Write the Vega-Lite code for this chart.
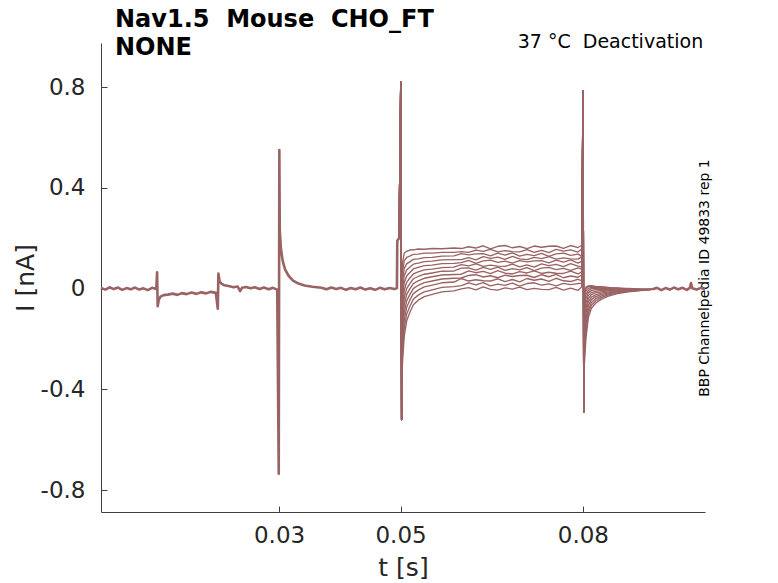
{
"$schema":"https://vega.github.io/schema/vega-lite/v6.json",
"width":604,"height":469,
"autosize":"none",
"padding":{"left":101,"top":43,"right":73,"bottom":71},
"background":"white",
"config":{"font":"DejaVu Sans","view":{"stroke":null},
"axis":{"grid":false,"domainColor":"#404040","tickColor":"#404040","labelColor":"#262626","titleColor":"#262626","labelFontSize":23,"titleFontSize":25,"titleFontWeight":"normal","tickSize":-6}},
"title":{"text":["Nav1.5\u00a0\u00a0Mouse\u00a0\u00a0CHO_FT","NONE"],"anchor":"start","frame":"group","offset":-27,"dx":14,"fontSize":24,"fontWeight":"bold","lineHeight":28,"color":"black"},
"datasets":{
"base":[
{"seg":"pre","t":0.0007,"i":0.003},{"seg":"pre","t":0.0014,"i":-0.004},{"seg":"pre","t":0.0021,"i":0.005},{"seg":"pre","t":0.0028,"i":-0.002},{"seg":"pre","t":0.0035,"i":0.004},{"seg":"pre","t":0.0042,"i":-0.005},{"seg":"pre","t":0.0049,"i":0.002},{"seg":"pre","t":0.0056,"i":-0.003},{"seg":"pre","t":0.0063,"i":0.004},{"seg":"pre","t":0.007,"i":-0.004},{"seg":"pre","t":0.0077,"i":0.001},{"seg":"pre","t":0.0084,"i":-0.006},{"seg":"pre","t":0.0091,"i":0.003},{"seg":"pre","t":0.0098,"i":-0.002},
{"seg":"pre","t":0.00993,"i":0.065},{"seg":"pre","t":0.01003,"i":-0.07},{"seg":"pre","t":0.0102,"i":-0.045},{"seg":"pre","t":0.0105,"i":-0.032},{"seg":"pre","t":0.011,"i":-0.026},{"seg":"pre","t":0.0117,"i":-0.024},{"seg":"pre","t":0.0125,"i":-0.02},{"seg":"pre","t":0.0133,"i":-0.025},{"seg":"pre","t":0.014,"i":-0.018},{"seg":"pre","t":0.0148,"i":-0.022},{"seg":"pre","t":0.0156,"i":-0.016},{"seg":"pre","t":0.0164,"i":-0.021},{"seg":"pre","t":0.0172,"i":-0.015},{"seg":"pre","t":0.018,"i":-0.019},{"seg":"pre","t":0.0188,"i":-0.013},{"seg":"pre","t":0.0196,"i":-0.017},
{"seg":"pre","t":0.01992,"i":-0.08},{"seg":"pre","t":0.02002,"i":0.06},{"seg":"pre","t":0.0202,"i":0.03},{"seg":"pre","t":0.0205,"i":0.02},{"seg":"pre","t":0.021,"i":0.013},{"seg":"pre","t":0.0217,"i":0.01},{"seg":"pre","t":0.0225,"i":0.005},{"seg":"pre","t":0.0232,"i":0.008},{"seg":"pre","t":0.0236,"i":-0.01},{"seg":"pre","t":0.0239,"i":0.003},{"seg":"pre","t":0.0246,"i":0.006},{"seg":"pre","t":0.0253,"i":0.001},{"seg":"pre","t":0.026,"i":0.005},{"seg":"pre","t":0.0268,"i":-0.002},{"seg":"pre","t":0.0275,"i":0.004},{"seg":"pre","t":0.0283,"i":-0.003},{"seg":"pre","t":0.029,"i":0.003},{"seg":"pre","t":0.0297,"i":-0.004},
{"seg":"pre","t":0.02995,"i":-0.735},{"seg":"pre","t":0.03005,"i":0.55},{"seg":"pre","t":0.03012,"i":0.23},{"seg":"pre","t":0.0303,"i":0.16},{"seg":"pre","t":0.0306,"i":0.11},{"seg":"pre","t":0.031,"i":0.075},{"seg":"pre","t":0.0316,"i":0.05},{"seg":"pre","t":0.0323,"i":0.032},{"seg":"pre","t":0.0332,"i":0.02},{"seg":"pre","t":0.0342,"i":0.012},{"seg":"pre","t":0.0355,"i":0.007},{"seg":"pre","t":0.037,"i":0.003},
{"seg":"pre","t":0.0378,"i":-0.003},{"seg":"pre","t":0.0386,"i":0.004},{"seg":"pre","t":0.0394,"i":-0.002},{"seg":"pre","t":0.0402,"i":0.003},{"seg":"pre","t":0.041,"i":-0.005},{"seg":"pre","t":0.0418,"i":0.002},{"seg":"pre","t":0.0426,"i":-0.003},{"seg":"pre","t":0.0434,"i":0.004},{"seg":"pre","t":0.0442,"i":-0.004},{"seg":"pre","t":0.045,"i":0.001},{"seg":"pre","t":0.0458,"i":-0.005},{"seg":"pre","t":0.0466,"i":0.003},{"seg":"pre","t":0.0474,"i":-0.003},{"seg":"pre","t":0.0482,"i":0.002},{"seg":"pre","t":0.049,"i":-0.002},{"seg":"pre","t":0.0494,"i":0.002},{"seg":"pre","t":0.04946,"i":0.19},{"seg":"pre","t":0.04975,"i":0.2},
{"seg":"post","t":0.0915,"i":-0.003},{"seg":"post","t":0.0922,"i":0.003},{"seg":"post","t":0.0929,"i":-0.006},{"seg":"post","t":0.0936,"i":0.002},{"seg":"post","t":0.0943,"i":-0.004},{"seg":"post","t":0.095,"i":0.004},{"seg":"post","t":0.0957,"i":-0.003},{"seg":"post","t":0.0964,"i":0.003},{"seg":"post","t":0.0971,"i":-0.005},{"seg":"post","t":0.0976,"i":0.003},{"seg":"post","t":0.0978,"i":0.022},{"seg":"post","t":0.098,"i":0.001},{"seg":"post","t":0.0987,"i":-0.004},{"seg":"post","t":0.0994,"i":0.003},{"seg":"post","t":0.1001,"i":-0.003}
],
"sweeps":[
{"sweep":1,"t":0.04975,"i":0.2},{"sweep":1,"t":0.05003,"i":0.82},{"sweep":1,"t":0.05017,"i":-0.52},{"sweep":1,"t":0.0503,"i":0.1},{"sweep":1,"t":0.0506,"i":0.14},{"sweep":1,"t":0.051,"i":0.148},{"sweep":1,"t":0.0515,"i":0.153},{"sweep":1,"t":0.0521,"i":0.154},{"sweep":1,"t":0.0529,"i":0.157},{"sweep":1,"t":0.0539,"i":0.156},{"sweep":1,"t":0.0552,"i":0.159},{"sweep":1,"t":0.0568,"i":0.158},{"sweep":1,"t":0.0588,"i":0.161},
{"sweep":1,"t":0.06,"i":0.159},{"sweep":1,"t":0.0612,"i":0.166},{"sweep":1,"t":0.0624,"i":0.161},{"sweep":1,"t":0.0636,"i":0.17},{"sweep":1,"t":0.0648,"i":0.158},{"sweep":1,"t":0.066,"i":0.168},{"sweep":1,"t":0.0672,"i":0.171},{"sweep":1,"t":0.0684,"i":0.162},{"sweep":1,"t":0.0696,"i":0.167},{"sweep":1,"t":0.0708,"i":0.159},{"sweep":1,"t":0.072,"i":0.169},{"sweep":1,"t":0.0732,"i":0.164},{"sweep":1,"t":0.0744,"i":0.168},{"sweep":1,"t":0.0756,"i":0.169},{"sweep":1,"t":0.0768,"i":0.16},{"sweep":1,"t":0.078,"i":0.171},{"sweep":1,"t":0.0792,"i":0.163},{"sweep":1,"t":0.0798,"i":0.172},
{"sweep":1,"t":0.08003,"i":0.785},{"sweep":1,"t":0.08015,"i":-0.49},{"sweep":1,"t":0.08025,"i":-0.02},{"sweep":1,"t":0.0805,"i":0.006},{"sweep":1,"t":0.0809,"i":0.011},{"sweep":1,"t":0.0814,"i":0.012},{"sweep":1,"t":0.0821,"i":0.009},{"sweep":1,"t":0.083,"i":0.008},{"sweep":1,"t":0.0842,"i":0.004},{"sweep":1,"t":0.0857,"i":0.003},{"sweep":1,"t":0.0875,"i":-0.001},{"sweep":1,"t":0.0895,"i":-0.002},{"sweep":1,"t":0.0915,"i":-0.003},
{"sweep":2,"t":0.04975,"i":0.2},{"sweep":2,"t":0.05003,"i":0.82},{"sweep":2,"t":0.05017,"i":-0.52},{"sweep":2,"t":0.0503,"i":0.064},{"sweep":2,"t":0.0506,"i":0.11},{"sweep":2,"t":0.051,"i":0.124},{"sweep":2,"t":0.0515,"i":0.129},{"sweep":2,"t":0.0521,"i":0.136},{"sweep":2,"t":0.0529,"i":0.137},{"sweep":2,"t":0.0539,"i":0.141},{"sweep":2,"t":0.0552,"i":0.141},{"sweep":2,"t":0.0568,"i":0.144},{"sweep":2,"t":0.0588,"i":0.144},
{"sweep":2,"t":0.06,"i":0.147},{"sweep":2,"t":0.0612,"i":0.144},{"sweep":2,"t":0.0624,"i":0.153},{"sweep":2,"t":0.0636,"i":0.148},{"sweep":2,"t":0.0648,"i":0.156},{"sweep":2,"t":0.066,"i":0.146},{"sweep":2,"t":0.0672,"i":0.151},{"sweep":2,"t":0.0684,"i":0.147},{"sweep":2,"t":0.0696,"i":0.146},{"sweep":2,"t":0.0708,"i":0.155},{"sweep":2,"t":0.072,"i":0.144},{"sweep":2,"t":0.0732,"i":0.152},{"sweep":2,"t":0.0744,"i":0.143},{"sweep":2,"t":0.0756,"i":0.156},{"sweep":2,"t":0.0768,"i":0.149},{"sweep":2,"t":0.078,"i":0.154},{"sweep":2,"t":0.0792,"i":0.145},{"sweep":2,"t":0.0798,"i":0.157},
{"sweep":2,"t":0.08003,"i":0.785},{"sweep":2,"t":0.08015,"i":-0.49},{"sweep":2,"t":0.08025,"i":-0.028},{"sweep":2,"t":0.0805,"i":0.0},{"sweep":2,"t":0.0809,"i":0.008},{"sweep":2,"t":0.0814,"i":0.01},{"sweep":2,"t":0.0821,"i":0.007},{"sweep":2,"t":0.083,"i":0.007},{"sweep":2,"t":0.0842,"i":0.005},{"sweep":2,"t":0.0857,"i":0.001},{"sweep":2,"t":0.0875,"i":0.001},{"sweep":2,"t":0.0895,"i":-0.002},{"sweep":2,"t":0.0915,"i":-0.003},
{"sweep":3,"t":0.04975,"i":0.2},{"sweep":3,"t":0.05003,"i":0.82},{"sweep":3,"t":0.05017,"i":-0.52},{"sweep":3,"t":0.0503,"i":0.027},{"sweep":3,"t":0.0506,"i":0.08},{"sweep":3,"t":0.051,"i":0.098},{"sweep":3,"t":0.0515,"i":0.106},{"sweep":3,"t":0.0521,"i":0.116},{"sweep":3,"t":0.0529,"i":0.118},{"sweep":3,"t":0.0539,"i":0.123},{"sweep":3,"t":0.0552,"i":0.124},{"sweep":3,"t":0.0568,"i":0.129},{"sweep":3,"t":0.0588,"i":0.13},
{"sweep":3,"t":0.06,"i":0.139},{"sweep":3,"t":0.0612,"i":0.134},{"sweep":3,"t":0.0624,"i":0.138},{"sweep":3,"t":0.0636,"i":0.139},{"sweep":3,"t":0.0648,"i":0.13},{"sweep":3,"t":0.066,"i":0.141},{"sweep":3,"t":0.0672,"i":0.133},{"sweep":3,"t":0.0684,"i":0.142},{"sweep":3,"t":0.0696,"i":0.129},{"sweep":3,"t":0.0708,"i":0.136},{"sweep":3,"t":0.072,"i":0.131},{"sweep":3,"t":0.0732,"i":0.14},{"sweep":3,"t":0.0744,"i":0.128},{"sweep":3,"t":0.0756,"i":0.138},{"sweep":3,"t":0.0768,"i":0.141},{"sweep":3,"t":0.078,"i":0.132},{"sweep":3,"t":0.0792,"i":0.137},{"sweep":3,"t":0.0798,"i":0.129},
{"sweep":3,"t":0.08003,"i":0.785},{"sweep":3,"t":0.08015,"i":-0.49},{"sweep":3,"t":0.08025,"i":-0.042},{"sweep":3,"t":0.0805,"i":-0.01},{"sweep":3,"t":0.0809,"i":0.001},{"sweep":3,"t":0.0814,"i":0.005},{"sweep":3,"t":0.0821,"i":0.006},{"sweep":3,"t":0.083,"i":0.004},{"sweep":3,"t":0.0842,"i":0.002},{"sweep":3,"t":0.0857,"i":0.001},{"sweep":3,"t":0.0875,"i":-0.001},{"sweep":3,"t":0.0895,"i":-0.003},{"sweep":3,"t":0.0915,"i":-0.003},
{"sweep":4,"t":0.04975,"i":0.2},{"sweep":4,"t":0.05003,"i":0.82},{"sweep":4,"t":0.05017,"i":-0.52},{"sweep":4,"t":0.0503,"i":-0.008},{"sweep":4,"t":0.0506,"i":0.051},{"sweep":4,"t":0.051,"i":0.074},{"sweep":4,"t":0.0515,"i":0.085},{"sweep":4,"t":0.0521,"i":0.097},{"sweep":4,"t":0.0529,"i":0.101},{"sweep":4,"t":0.0539,"i":0.107},{"sweep":4,"t":0.0552,"i":0.109},{"sweep":4,"t":0.0568,"i":0.114},{"sweep":4,"t":0.0588,"i":0.115},
{"sweep":4,"t":0.06,"i":0.115},{"sweep":4,"t":0.0612,"i":0.123},{"sweep":4,"t":0.0624,"i":0.114},{"sweep":4,"t":0.0636,"i":0.127},{"sweep":4,"t":0.0648,"i":0.12},{"sweep":4,"t":0.066,"i":0.125},{"sweep":4,"t":0.0672,"i":0.116},{"sweep":4,"t":0.0684,"i":0.128},{"sweep":4,"t":0.0696,"i":0.118},{"sweep":4,"t":0.0708,"i":0.115},{"sweep":4,"t":0.072,"i":0.124},{"sweep":4,"t":0.0732,"i":0.119},{"sweep":4,"t":0.0744,"i":0.127},{"sweep":4,"t":0.0756,"i":0.117},{"sweep":4,"t":0.0768,"i":0.122},{"sweep":4,"t":0.078,"i":0.118},{"sweep":4,"t":0.0792,"i":0.117},{"sweep":4,"t":0.0798,"i":0.126},
{"sweep":4,"t":0.08003,"i":0.785},{"sweep":4,"t":0.08015,"i":-0.49},{"sweep":4,"t":0.08025,"i":-0.06},{"sweep":4,"t":0.0805,"i":-0.023},{"sweep":4,"t":0.0809,"i":-0.008},{"sweep":4,"t":0.0814,"i":0.0},{"sweep":4,"t":0.0821,"i":0.0},{"sweep":4,"t":0.083,"i":0.002},{"sweep":4,"t":0.0842,"i":0.0},{"sweep":4,"t":0.0857,"i":-0.002},{"sweep":4,"t":0.0875,"i":-0.002},{"sweep":4,"t":0.0895,"i":-0.003},{"sweep":4,"t":0.0915,"i":-0.003},
{"sweep":5,"t":0.04975,"i":0.2},{"sweep":5,"t":0.05003,"i":0.82},{"sweep":5,"t":0.05017,"i":-0.52},{"sweep":5,"t":0.0503,"i":-0.044},{"sweep":5,"t":0.0506,"i":0.022},{"sweep":5,"t":0.051,"i":0.05},{"sweep":5,"t":0.0515,"i":0.063},{"sweep":5,"t":0.0521,"i":0.078},{"sweep":5,"t":0.0529,"i":0.084},{"sweep":5,"t":0.0539,"i":0.091},{"sweep":5,"t":0.0552,"i":0.093},{"sweep":5,"t":0.0568,"i":0.099},{"sweep":5,"t":0.0588,"i":0.1},
{"sweep":5,"t":0.06,"i":0.103},{"sweep":5,"t":0.0612,"i":0.112},{"sweep":5,"t":0.0624,"i":0.1},{"sweep":5,"t":0.0636,"i":0.11},{"sweep":5,"t":0.0648,"i":0.113},{"sweep":5,"t":0.066,"i":0.104},{"sweep":5,"t":0.0672,"i":0.109},{"sweep":5,"t":0.0684,"i":0.101},{"sweep":5,"t":0.0696,"i":0.111},{"sweep":5,"t":0.0708,"i":0.106},{"sweep":5,"t":0.072,"i":0.11},{"sweep":5,"t":0.0732,"i":0.111},{"sweep":5,"t":0.0744,"i":0.102},{"sweep":5,"t":0.0756,"i":0.113},{"sweep":5,"t":0.0768,"i":0.105},{"sweep":5,"t":0.078,"i":0.114},{"sweep":5,"t":0.0792,"i":0.101},{"sweep":5,"t":0.0798,"i":0.108},
{"sweep":5,"t":0.08003,"i":0.785},{"sweep":5,"t":0.08015,"i":-0.49},{"sweep":5,"t":0.08025,"i":-0.082},{"sweep":5,"t":0.0805,"i":-0.039},{"sweep":5,"t":0.0809,"i":-0.017},{"sweep":5,"t":0.0814,"i":-0.008},{"sweep":5,"t":0.0821,"i":-0.004},{"sweep":5,"t":0.083,"i":-0.003},{"sweep":5,"t":0.0842,"i":-0.004},{"sweep":5,"t":0.0857,"i":-0.002},{"sweep":5,"t":0.0875,"i":-0.004},{"sweep":5,"t":0.0895,"i":-0.003},{"sweep":5,"t":0.0915,"i":-0.003},
{"sweep":6,"t":0.04975,"i":0.2},{"sweep":6,"t":0.05003,"i":0.82},{"sweep":6,"t":0.05017,"i":-0.52},{"sweep":6,"t":0.0503,"i":-0.08},{"sweep":6,"t":0.0506,"i":-0.008},{"sweep":6,"t":0.051,"i":0.025},{"sweep":6,"t":0.0515,"i":0.041},{"sweep":6,"t":0.0521,"i":0.058},{"sweep":6,"t":0.0529,"i":0.066},{"sweep":6,"t":0.0539,"i":0.074},{"sweep":6,"t":0.0552,"i":0.077},{"sweep":6,"t":0.0568,"i":0.083},{"sweep":6,"t":0.0588,"i":0.085},
{"sweep":6,"t":0.06,"i":0.095},{"sweep":6,"t":0.0612,"i":0.09},{"sweep":6,"t":0.0624,"i":0.098},{"sweep":6,"t":0.0636,"i":0.088},{"sweep":6,"t":0.0648,"i":0.093},{"sweep":6,"t":0.066,"i":0.089},{"sweep":6,"t":0.0672,"i":0.088},{"sweep":6,"t":0.0684,"i":0.097},{"sweep":6,"t":0.0696,"i":0.086},{"sweep":6,"t":0.0708,"i":0.094},{"sweep":6,"t":0.072,"i":0.085},{"sweep":6,"t":0.0732,"i":0.098},{"sweep":6,"t":0.0744,"i":0.091},{"sweep":6,"t":0.0756,"i":0.096},{"sweep":6,"t":0.0768,"i":0.087},{"sweep":6,"t":0.078,"i":0.099},{"sweep":6,"t":0.0792,"i":0.089},{"sweep":6,"t":0.0798,"i":0.086},
{"sweep":6,"t":0.08003,"i":0.785},{"sweep":6,"t":0.08015,"i":-0.49},{"sweep":6,"t":0.08025,"i":-0.106},{"sweep":6,"t":0.0805,"i":-0.057},{"sweep":6,"t":0.0809,"i":-0.028},{"sweep":6,"t":0.0814,"i":-0.016},{"sweep":6,"t":0.0821,"i":-0.011},{"sweep":6,"t":0.083,"i":-0.007},{"sweep":6,"t":0.0842,"i":-0.006},{"sweep":6,"t":0.0857,"i":-0.005},{"sweep":6,"t":0.0875,"i":-0.003},{"sweep":6,"t":0.0895,"i":-0.004},{"sweep":6,"t":0.0915,"i":-0.003},
{"sweep":7,"t":0.04975,"i":0.2},{"sweep":7,"t":0.05003,"i":0.82},{"sweep":7,"t":0.05017,"i":-0.52},{"sweep":7,"t":0.0503,"i":-0.115},{"sweep":7,"t":0.0506,"i":-0.037},{"sweep":7,"t":0.051,"i":0.0},{"sweep":7,"t":0.0515,"i":0.019},{"sweep":7,"t":0.0521,"i":0.039},{"sweep":7,"t":0.0529,"i":0.048},{"sweep":7,"t":0.0539,"i":0.057},{"sweep":7,"t":0.0552,"i":0.062},{"sweep":7,"t":0.0568,"i":0.069},{"sweep":7,"t":0.0588,"i":0.07},
{"sweep":7,"t":0.06,"i":0.081},{"sweep":7,"t":0.0612,"i":0.082},{"sweep":7,"t":0.0624,"i":0.073},{"sweep":7,"t":0.0636,"i":0.084},{"sweep":7,"t":0.0648,"i":0.076},{"sweep":7,"t":0.066,"i":0.085},{"sweep":7,"t":0.0672,"i":0.072},{"sweep":7,"t":0.0684,"i":0.079},{"sweep":7,"t":0.0696,"i":0.074},{"sweep":7,"t":0.0708,"i":0.083},{"sweep":7,"t":0.072,"i":0.071},{"sweep":7,"t":0.0732,"i":0.081},{"sweep":7,"t":0.0744,"i":0.084},{"sweep":7,"t":0.0756,"i":0.075},{"sweep":7,"t":0.0768,"i":0.08},{"sweep":7,"t":0.078,"i":0.072},{"sweep":7,"t":0.0792,"i":0.082},{"sweep":7,"t":0.0798,"i":0.077},
{"sweep":7,"t":0.08003,"i":0.785},{"sweep":7,"t":0.08015,"i":-0.49},{"sweep":7,"t":0.08025,"i":-0.133},{"sweep":7,"t":0.0805,"i":-0.077},{"sweep":7,"t":0.0809,"i":-0.04},{"sweep":7,"t":0.0814,"i":-0.024},{"sweep":7,"t":0.0821,"i":-0.017},{"sweep":7,"t":0.083,"i":-0.013},{"sweep":7,"t":0.0842,"i":-0.009},{"sweep":7,"t":0.0857,"i":-0.006},{"sweep":7,"t":0.0875,"i":-0.005},{"sweep":7,"t":0.0895,"i":-0.004},{"sweep":7,"t":0.0915,"i":-0.003},
{"sweep":8,"t":0.04975,"i":0.2},{"sweep":8,"t":0.05003,"i":0.82},{"sweep":8,"t":0.05017,"i":-0.52},{"sweep":8,"t":0.0503,"i":-0.151},{"sweep":8,"t":0.0506,"i":-0.066},{"sweep":8,"t":0.051,"i":-0.024},{"sweep":8,"t":0.0515,"i":-0.002},{"sweep":8,"t":0.0521,"i":0.02},{"sweep":8,"t":0.0529,"i":0.031},{"sweep":8,"t":0.0539,"i":0.041},{"sweep":8,"t":0.0552,"i":0.047},{"sweep":8,"t":0.0568,"i":0.054},{"sweep":8,"t":0.0588,"i":0.056},
{"sweep":8,"t":0.06,"i":0.057},{"sweep":8,"t":0.0612,"i":0.07},{"sweep":8,"t":0.0624,"i":0.063},{"sweep":8,"t":0.0636,"i":0.068},{"sweep":8,"t":0.0648,"i":0.059},{"sweep":8,"t":0.066,"i":0.071},{"sweep":8,"t":0.0672,"i":0.061},{"sweep":8,"t":0.0684,"i":0.058},{"sweep":8,"t":0.0696,"i":0.067},{"sweep":8,"t":0.0708,"i":0.062},{"sweep":8,"t":0.072,"i":0.07},{"sweep":8,"t":0.0732,"i":0.06},{"sweep":8,"t":0.0744,"i":0.065},{"sweep":8,"t":0.0756,"i":0.061},{"sweep":8,"t":0.0768,"i":0.06},{"sweep":8,"t":0.078,"i":0.069},{"sweep":8,"t":0.0792,"i":0.058},{"sweep":8,"t":0.0798,"i":0.066},
{"sweep":8,"t":0.08003,"i":0.785},{"sweep":8,"t":0.08015,"i":-0.49},{"sweep":8,"t":0.08025,"i":-0.162},{"sweep":8,"t":0.0805,"i":-0.098},{"sweep":8,"t":0.0809,"i":-0.053},{"sweep":8,"t":0.0814,"i":-0.034},{"sweep":8,"t":0.0821,"i":-0.025},{"sweep":8,"t":0.083,"i":-0.018},{"sweep":8,"t":0.0842,"i":-0.013},{"sweep":8,"t":0.0857,"i":-0.009},{"sweep":8,"t":0.0875,"i":-0.006},{"sweep":8,"t":0.0895,"i":-0.005},{"sweep":8,"t":0.0915,"i":-0.003},
{"sweep":9,"t":0.04975,"i":0.2},{"sweep":9,"t":0.05003,"i":0.82},{"sweep":9,"t":0.05017,"i":-0.52},{"sweep":9,"t":0.0503,"i":-0.187},{"sweep":9,"t":0.0506,"i":-0.096},{"sweep":9,"t":0.051,"i":-0.049},{"sweep":9,"t":0.0515,"i":-0.025},{"sweep":9,"t":0.0521,"i":0.0},{"sweep":9,"t":0.0529,"i":0.013},{"sweep":9,"t":0.0539,"i":0.024},{"sweep":9,"t":0.0552,"i":0.03},{"sweep":9,"t":0.0568,"i":0.038},{"sweep":9,"t":0.0588,"i":0.041},
{"sweep":9,"t":0.06,"i":0.042},{"sweep":9,"t":0.0612,"i":0.052},{"sweep":9,"t":0.0624,"i":0.055},{"sweep":9,"t":0.0636,"i":0.046},{"sweep":9,"t":0.0648,"i":0.051},{"sweep":9,"t":0.066,"i":0.043},{"sweep":9,"t":0.0672,"i":0.053},{"sweep":9,"t":0.0684,"i":0.048},{"sweep":9,"t":0.0696,"i":0.052},{"sweep":9,"t":0.0708,"i":0.053},{"sweep":9,"t":0.072,"i":0.044},{"sweep":9,"t":0.0732,"i":0.055},{"sweep":9,"t":0.0744,"i":0.047},{"sweep":9,"t":0.0756,"i":0.056},{"sweep":9,"t":0.0768,"i":0.043},{"sweep":9,"t":0.078,"i":0.05},{"sweep":9,"t":0.0792,"i":0.045},{"sweep":9,"t":0.0798,"i":0.054},
{"sweep":9,"t":0.08003,"i":0.785},{"sweep":9,"t":0.08015,"i":-0.49},{"sweep":9,"t":0.08025,"i":-0.194},{"sweep":9,"t":0.0805,"i":-0.122},{"sweep":9,"t":0.0809,"i":-0.068},{"sweep":9,"t":0.0814,"i":-0.044},{"sweep":9,"t":0.0821,"i":-0.032},{"sweep":9,"t":0.083,"i":-0.024},{"sweep":9,"t":0.0842,"i":-0.017},{"sweep":9,"t":0.0857,"i":-0.012},{"sweep":9,"t":0.0875,"i":-0.008},{"sweep":9,"t":0.0895,"i":-0.006},{"sweep":9,"t":0.0915,"i":-0.003},
{"sweep":10,"t":0.04975,"i":0.2},{"sweep":10,"t":0.05003,"i":0.82},{"sweep":10,"t":0.05017,"i":-0.52},{"sweep":10,"t":0.0503,"i":-0.223},{"sweep":10,"t":0.0506,"i":-0.126},{"sweep":10,"t":0.051,"i":-0.074},{"sweep":10,"t":0.0515,"i":-0.047},{"sweep":10,"t":0.0521,"i":-0.02},{"sweep":10,"t":0.0529,"i":-0.006},{"sweep":10,"t":0.0539,"i":0.007},{"sweep":10,"t":0.0552,"i":0.014},{"sweep":10,"t":0.0568,"i":0.023},{"sweep":10,"t":0.0588,"i":0.026},
{"sweep":10,"t":0.06,"i":0.04},{"sweep":10,"t":0.0612,"i":0.03},{"sweep":10,"t":0.0624,"i":0.035},{"sweep":10,"t":0.0636,"i":0.031},{"sweep":10,"t":0.0648,"i":0.03},{"sweep":10,"t":0.066,"i":0.039},{"sweep":10,"t":0.0672,"i":0.028},{"sweep":10,"t":0.0684,"i":0.036},{"sweep":10,"t":0.0696,"i":0.027},{"sweep":10,"t":0.0708,"i":0.04},{"sweep":10,"t":0.072,"i":0.033},{"sweep":10,"t":0.0732,"i":0.038},{"sweep":10,"t":0.0744,"i":0.029},{"sweep":10,"t":0.0756,"i":0.041},{"sweep":10,"t":0.0768,"i":0.031},{"sweep":10,"t":0.078,"i":0.028},{"sweep":10,"t":0.0792,"i":0.037},{"sweep":10,"t":0.0798,"i":0.032},
{"sweep":10,"t":0.08003,"i":0.785},{"sweep":10,"t":0.08015,"i":-0.49},{"sweep":10,"t":0.08025,"i":-0.227},{"sweep":10,"t":0.0805,"i":-0.146},{"sweep":10,"t":0.0809,"i":-0.083},{"sweep":10,"t":0.0814,"i":-0.055},{"sweep":10,"t":0.0821,"i":-0.04},{"sweep":10,"t":0.083,"i":-0.03},{"sweep":10,"t":0.0842,"i":-0.021},{"sweep":10,"t":0.0857,"i":-0.014},{"sweep":10,"t":0.0875,"i":-0.01},{"sweep":10,"t":0.0895,"i":-0.006},{"sweep":10,"t":0.0915,"i":-0.003},
{"sweep":11,"t":0.04975,"i":0.2},{"sweep":11,"t":0.05003,"i":0.82},{"sweep":11,"t":0.05017,"i":-0.52},{"sweep":11,"t":0.0503,"i":-0.262},{"sweep":11,"t":0.0506,"i":-0.158},{"sweep":11,"t":0.051,"i":-0.102},{"sweep":11,"t":0.0515,"i":-0.072},{"sweep":11,"t":0.0521,"i":-0.042},{"sweep":11,"t":0.0529,"i":-0.026},{"sweep":11,"t":0.0539,"i":-0.013},{"sweep":11,"t":0.0552,"i":-0.005},{"sweep":11,"t":0.0568,"i":0.005},{"sweep":11,"t":0.0588,"i":0.008},
{"sweep":11,"t":0.06,"i":0.012},{"sweep":11,"t":0.0612,"i":0.023},{"sweep":11,"t":0.0624,"i":0.015},{"sweep":11,"t":0.0636,"i":0.024},{"sweep":11,"t":0.0648,"i":0.011},{"sweep":11,"t":0.066,"i":0.018},{"sweep":11,"t":0.0672,"i":0.013},{"sweep":11,"t":0.0684,"i":0.022},{"sweep":11,"t":0.0696,"i":0.01},{"sweep":11,"t":0.0708,"i":0.02},{"sweep":11,"t":0.072,"i":0.023},{"sweep":11,"t":0.0732,"i":0.014},{"sweep":11,"t":0.0744,"i":0.019},{"sweep":11,"t":0.0756,"i":0.011},{"sweep":11,"t":0.0768,"i":0.021},{"sweep":11,"t":0.078,"i":0.016},{"sweep":11,"t":0.0792,"i":0.02},{"sweep":11,"t":0.0798,"i":0.021},
{"sweep":11,"t":0.08003,"i":0.785},{"sweep":11,"t":0.08015,"i":-0.49},{"sweep":11,"t":0.08025,"i":-0.263},{"sweep":11,"t":0.0805,"i":-0.173},{"sweep":11,"t":0.0809,"i":-0.098},{"sweep":11,"t":0.0814,"i":-0.066},{"sweep":11,"t":0.0821,"i":-0.049},{"sweep":11,"t":0.083,"i":-0.036},{"sweep":11,"t":0.0842,"i":-0.025},{"sweep":11,"t":0.0857,"i":-0.017},{"sweep":11,"t":0.0875,"i":-0.011},{"sweep":11,"t":0.0895,"i":-0.007},{"sweep":11,"t":0.0915,"i":-0.003},
{"sweep":12,"t":0.04975,"i":0.2},{"sweep":12,"t":0.05003,"i":0.82},{"sweep":12,"t":0.05017,"i":-0.52},{"sweep":12,"t":0.0503,"i":-0.3},{"sweep":12,"t":0.0506,"i":-0.19},{"sweep":12,"t":0.051,"i":-0.129},{"sweep":12,"t":0.0515,"i":-0.096},{"sweep":12,"t":0.0521,"i":-0.064},{"sweep":12,"t":0.0529,"i":-0.046},{"sweep":12,"t":0.0539,"i":-0.032},{"sweep":12,"t":0.0552,"i":-0.023},{"sweep":12,"t":0.0568,"i":-0.013},{"sweep":12,"t":0.0588,"i":-0.009},
{"sweep":12,"t":0.06,"i":-0.001},{"sweep":12,"t":0.0612,"i":0.004},{"sweep":12,"t":0.0624,"i":-0.005},{"sweep":12,"t":0.0636,"i":0.007},{"sweep":12,"t":0.0648,"i":-0.003},{"sweep":12,"t":0.066,"i":-0.006},{"sweep":12,"t":0.0672,"i":0.003},{"sweep":12,"t":0.0684,"i":-0.002},{"sweep":12,"t":0.0696,"i":0.006},{"sweep":12,"t":0.0708,"i":-0.004},{"sweep":12,"t":0.072,"i":0.001},{"sweep":12,"t":0.0732,"i":-0.003},{"sweep":12,"t":0.0744,"i":-0.004},{"sweep":12,"t":0.0756,"i":0.005},{"sweep":12,"t":0.0768,"i":-0.006},{"sweep":12,"t":0.078,"i":0.002},{"sweep":12,"t":0.0792,"i":-0.007},{"sweep":12,"t":0.0798,"i":0.006},
{"sweep":12,"t":0.08003,"i":0.785},{"sweep":12,"t":0.08015,"i":-0.49},{"sweep":12,"t":0.08025,"i":-0.3},{"sweep":12,"t":0.0805,"i":-0.2},{"sweep":12,"t":0.0809,"i":-0.115},{"sweep":12,"t":0.0814,"i":-0.078},{"sweep":12,"t":0.0821,"i":-0.058},{"sweep":12,"t":0.083,"i":-0.043},{"sweep":12,"t":0.0842,"i":-0.03},{"sweep":12,"t":0.0857,"i":-0.02},{"sweep":12,"t":0.0875,"i":-0.013},{"sweep":12,"t":0.0895,"i":-0.008},{"sweep":12,"t":0.0915,"i":-0.003}
]
},
"resolve":{"axis":{"y":"independent"}},
"layer":[
{"data":{"name":"base"},
"mark":{"type":"line","color":"#9a6363","strokeWidth":2.6,"strokeJoin":"round"},
"encoding":{
"x":{"field":"t","type":"quantitative","scale":{"domain":[0.0007,0.1001],"nice":false,"zero":false},
"axis":{"values":[0.03,0.05,0.08],"format":".2f","title":"t [s]","labelPadding":18,"titlePadding":8}},
"y":{"field":"i","type":"quantitative","scale":{"domain":[-0.887,0.975],"nice":false,"zero":false},
"axis":{"values":[-0.8,-0.4,0,0.4,0.8],"labelExpr":"datum.value == 0 ? '0' : (datum.value < 0 ? '-' : '') + format(abs(datum.value), '.1f')","title":"I [nA]","labelPadding":22,"titlePadding":2}},
"detail":{"field":"seg"}}},
{"data":{"name":"sweeps"},
"mark":{"type":"line","color":"#9a6363","strokeWidth":1.35,"strokeJoin":"round"},
"encoding":{
"x":{"field":"t","type":"quantitative","scale":{"domain":[0.0007,0.1001],"nice":false,"zero":false},
"axis":{"values":[0.03,0.05,0.08],"format":".2f","title":"t [s]","labelPadding":18,"titlePadding":8}},
"y":{"field":"i","type":"quantitative","scale":{"domain":[-0.887,0.975],"nice":false,"zero":false},"axis":null},
"detail":{"field":"sweep"}}},
{"data":{"values":[{"label":"37 °C\u00a0\u00a0Deactivation"}]},
"mark":{"type":"text","align":"right","baseline":"alphabetic","fontSize":19,"color":"black"},
"encoding":{
"x":{"datum":0.0998,"type":"quantitative","scale":{"domain":[0.0007,0.1001],"nice":false,"zero":false},
"axis":{"values":[0.03,0.05,0.08],"format":".2f","title":"t [s]","labelPadding":18,"titlePadding":8}},
"y":{"datum":0.956,"type":"quantitative","scale":{"domain":[-0.887,0.975],"nice":false,"zero":false},
"axis":{"orient":"right","title":"BBP Channelpedia ID 49833 rep 1","titleFontSize":14,"titleColor":"black","titleAngle":270,"titlePadding":6,"labels":false,"ticks":false,"domain":false}},
"text":{"field":"label"}}}
]
}
